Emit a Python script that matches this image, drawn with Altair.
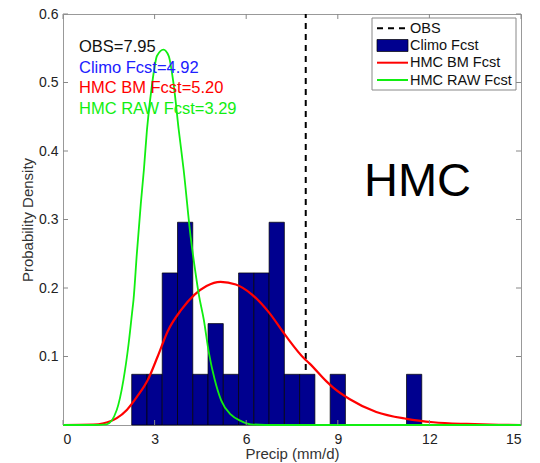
import altair as alt
import pandas as pd

# Climatological forecast histogram: bin centres (mm/d) and probability density
bin_centers = [2.5, 3.0, 3.5, 4.0, 4.5, 5.0, 5.5, 6.0, 6.5, 7.0, 7.5, 8.0, 9.0, 11.5]
bin_density = [0.074, 0.074, 0.222, 0.296, 0.074, 0.148, 0.074,
               0.222, 0.222, 0.296, 0.074, 0.074, 0.074, 0.074]
bin_width = 0.5

# HMC bias-corrected (BM) forecast density
bm_x = [0.0, 1.0, 1.33, 1.76, 2.09, 2.42, 2.78, 3.1, 3.43, 3.87, 4.3, 4.7, 5.16,
        5.66, 6.2, 6.75, 7.3, 7.9, 8.07, 8.62, 8.84, 9.38, 10.26, 11.25, 12.13,
        13.22, 14.0, 15.0]
bm_y = [0.0, 0.0005, 0.0025, 0.01, 0.022, 0.041, 0.066, 0.1, 0.137, 0.168, 0.19,
        0.203, 0.209, 0.205, 0.19, 0.164, 0.13, 0.097, 0.09, 0.064, 0.055, 0.038,
        0.019, 0.009, 0.004, 0.0015, 0.0005, 0.0]

# HMC raw forecast density
raw_x = [0.0, 1.0, 1.43, 1.76, 1.98, 2.15, 2.26, 2.31, 2.42, 2.55, 2.65, 2.75,
         2.91, 3.08, 3.29, 3.46, 3.63, 3.79, 3.95, 4.18, 4.34, 4.45, 4.61, 4.78,
         4.97, 5.18, 5.5, 5.82, 6.15, 7.0, 15.0]
raw_y = [0.0, 0.0, 0.001, 0.022, 0.066, 0.119, 0.163, 0.183, 0.251, 0.324, 0.373,
         0.431, 0.495, 0.539, 0.548, 0.539, 0.495, 0.431, 0.373, 0.275, 0.222,
         0.19, 0.154, 0.105, 0.066, 0.036, 0.015, 0.006, 0.001, 0.0, 0.0]

obs_value = 7.95
x_ticks = [0, 3, 6, 9, 12, 15]
y_ticks = [0.1, 0.2, 0.3, 0.4, 0.5, 0.6]

annotations = ["OBS=7.95", "Climo Fcst=4.92", "HMC BM Fcst=5.20", "HMC RAW Fcst=3.29"]
legend_labels = ["OBS", "Climo Fcst", "HMC BM Fcst", "HMC RAW Fcst"]
panel_label = "HMC"

W, H = 458, 411
FONT = "Liberation Sans"
BAR_BLUE = "#00008F"
RED = "#ff0000"
GREEN = "#11ee11"

xs = alt.Scale(domain=[0, 15], nice=False, zero=False)
ys = alt.Scale(domain=[0, 0.6], nice=False)

x_axis = alt.Axis(values=x_ticks, title="Precip (mm/d)", tickSize=0, domain=False,
                  grid=False, labelPadding=7, titlePadding=0, format="d")
y_axis = alt.Axis(values=y_ticks, title="Probability Density", tickSize=0, domain=False,
                  grid=False, labelPadding=5, titlePadding=3, format=".1f")

hist = pd.DataFrame({"center": bin_centers, "density": bin_density})
bm = pd.DataFrame({"x": bm_x, "y": bm_y})
raw = pd.DataFrame({"x": raw_x, "y": raw_y})
obs = pd.DataFrame({"x": [obs_value], "y0": [0.0], "y1": [0.6]})

obs_line = alt.Chart(obs).mark_rule(color="black", strokeWidth=2, strokeDash=[6, 5]).encode(
    x=alt.X("x:Q", scale=xs, axis=x_axis),
    y=alt.Y("y0:Q", scale=ys, axis=y_axis),
    y2="y1:Q",
)

bars = alt.Chart(hist).transform_calculate(
    left=f"datum.center - {bin_width / 2}",
    right=f"datum.center + {bin_width / 2}",
).mark_rect(fill=BAR_BLUE, stroke="black", strokeWidth=0.7).encode(
    x=alt.X("left:Q", scale=xs),
    x2="right:Q",
    y=alt.Y("density:Q", scale=ys),
    y2=alt.datum(0),
)

bm_line = alt.Chart(bm).mark_line(color=RED, strokeWidth=2.2, interpolate="monotone").encode(
    x=alt.X("x:Q", scale=xs), y=alt.Y("y:Q", scale=ys)
)
raw_line = alt.Chart(raw).mark_line(color=GREEN, strokeWidth=1.8, interpolate="monotone").encode(
    x=alt.X("x:Q", scale=xs), y=alt.Y("y:Q", scale=ys)
)

# inward tick marks on all four sides of the frame
xt = pd.DataFrame({"v": x_ticks})
yt = pd.DataFrame({"v": y_ticks})
tick_style = dict(color="#888888", strokeWidth=1)
ticks = alt.layer(
    alt.Chart(xt).mark_rule(**tick_style).encode(x=alt.X("v:Q", scale=xs), y=alt.value(H), y2=alt.value(H - 5)),
    alt.Chart(xt).mark_rule(**tick_style).encode(x=alt.X("v:Q", scale=xs), y=alt.value(0), y2=alt.value(5)),
    alt.Chart(yt).mark_rule(**tick_style).encode(y=alt.Y("v:Q", scale=ys), x=alt.value(0), x2=alt.value(5)),
    alt.Chart(yt).mark_rule(**tick_style).encode(y=alt.Y("v:Q", scale=ys), x=alt.value(W), x2=alt.value(W - 5)),
)

# stacked summary annotations in the upper left
ann_colors = ["#111111", "#2020ff", RED, GREEN]
one = pd.DataFrame({"a": [0]})
ann_layers = []
for i, (txt, col) in enumerate(zip(annotations, ann_colors)):
    ann_layers.append(
        alt.Chart(one).mark_text(text=txt, color=col, font=FONT, fontSize=16.5,
                                 align="left", baseline="alphabetic").encode(
            x=alt.value(16), y=alt.value(38 + 20.7 * i))
    )

big_label = alt.Chart(one).mark_text(text=panel_label, font=FONT, fontSize=47, color="black",
                                     align="left", baseline="alphabetic").encode(
    x=alt.value(301), y=alt.value(182))

# legend box
lx0, lx1, ly0, ly1 = 309, 453, 4, 76
row_y = [14.3, 31.5, 48.7, 66]
sx0, sx1, tx = 314, 345, 347
legend_parts = [
    alt.Chart(one).mark_rect(fill="white", stroke="#888888", strokeWidth=1).encode(
        x=alt.value(lx0), x2=alt.value(lx1), y=alt.value(ly0), y2=alt.value(ly1)),
    alt.Chart(one).mark_rule(color="black", strokeWidth=2, strokeDash=[6, 5]).encode(
        x=alt.value(sx0), x2=alt.value(sx1), y=alt.value(row_y[0])),
    alt.Chart(one).mark_rect(fill=BAR_BLUE, stroke="black", strokeWidth=0.7).encode(
        x=alt.value(sx0), x2=alt.value(sx1), y=alt.value(row_y[1] - 6), y2=alt.value(row_y[1] + 6)),
    alt.Chart(one).mark_rule(color=RED, strokeWidth=2).encode(
        x=alt.value(sx0), x2=alt.value(sx1), y=alt.value(row_y[2])),
    alt.Chart(one).mark_rule(color=GREEN, strokeWidth=2).encode(
        x=alt.value(sx0), x2=alt.value(sx1), y=alt.value(row_y[3])),
]
for lab, yy in zip(legend_labels, row_y):
    legend_parts.append(
        alt.Chart(one).mark_text(text=lab, font=FONT, fontSize=14.5, color="#111111",
                                 align="left", baseline="middle").encode(
            x=alt.value(tx), y=alt.value(yy + 0.5))
    )

chart = alt.layer(
    obs_line, bars, bm_line, raw_line, ticks, *ann_layers, big_label, *legend_parts
).properties(
    width=W, height=H,
    padding={"left": 63, "top": 14, "right": 19, "bottom": 38},
    autosize=alt.AutoSizeParams(type="none"),
).configure_view(
    stroke="#999999", strokeWidth=1
).configure_axis(
    labelFont=FONT, titleFont=FONT, labelFontSize=14, titleFontSize=15,
    labelColor="#222222", titleColor="#333333", titleFontWeight="normal"
)

chart.save("out.html", embed_options={"renderer": "svg", "actions": False})
